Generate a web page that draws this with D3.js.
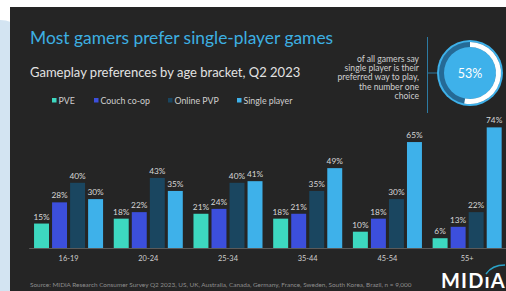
<!DOCTYPE html>
<html>
<head>
<meta charset="utf-8">
<script src="https://cdn.jsdelivr.net/npm/d3@7"></script>
<style>
  body { margin: 0; background: #ffffff; }
  svg { display: block; font-family: Lato, 'Open Sans', sans-serif; }
</style>
</head>
<body>
<svg id="chart"></svg>
<script>
// chart data
const ageGroups = ['16-19', '20-24', '25-34', '35-44', '45-54', '55+'];
const seriesNames = ['PVE', 'Couch co-op', 'Online PVP', 'Single player'];
const pveValues = [15, 18, 21, 18, 10, 6];
const couchValues = [28, 22, 24, 21, 18, 13];
const onlineValues = [40, 43, 40, 35, 30, 22];
const singleValues = [30, 35, 41, 49, 65, 74];
const headlineShare = 53;
const noteLines = ['of all gamers say', 'single player is their', 'preferred way to play,', 'the number one', 'choice'];

const COLORS = ['#3dd8c0', '#3c4fdc', '#1a4660', '#3eb1ea'];
const width = 506;
const height = 291;

const svg = d3.select('#chart')
    .attr('width', width)
    .attr('height', height);

// background: light side band + dark panel
svg.append('rect')
    .attr('x', -30).attr('y', 20)
    .attr('width', 60).attr('height', 320)
    .attr('rx', 30)
    .attr('fill', '#d3e4f2');
svg.append('rect')
    .attr('x', 10).attr('y', 7)
    .attr('width', width - 10).attr('height', height - 7)
    .attr('fill', '#252525');

// titles
svg.append('text')
    .attr('x', 30).attr('y', 44)
    .attr('fill', '#3db0e2')
    .style('font-size', '17.4px')
    .text('Most gamers prefer single-player games');

svg.append('text')
    .attr('x', 30).attr('y', 77)
    .attr('fill', '#e2e2e2')
    .style('font-size', '13px')
    .text('Gameplay preferences by age bracket, Q2 2023');

// legend
const legendX = [52, 94, 168, 237];
const legend = svg.append('g');
legend.selectAll('rect')
    .data(seriesNames)
    .enter()
    .append('rect')
    .attr('x', (d, i) => legendX[i])
    .attr('y', 98)
    .attr('width', 4.5).attr('height', 4.5)
    .attr('fill', (d, i) => COLORS[i]);
legend.selectAll('text')
    .data(seriesNames)
    .enter()
    .append('text')
    .attr('x', (d, i) => legendX[i] + 6.5)
    .attr('y', 103.5)
    .attr('fill', '#cfcfcf')
    .style('font-size', '8.8px')
    .text((d) => d);

// callout
svg.append('line')
    .attr('x1', 427.5).attr('x2', 427.5)
    .attr('y1', 37).attr('y2', 113)
    .attr('stroke', '#2d7aa2').attr('stroke-width', 1);
svg.append('line')
    .attr('x1', 427.5).attr('x2', 442)
    .attr('y1', 73).attr('y2', 73)
    .attr('stroke', '#2d7aa2').attr('stroke-width', 1);

svg.append('g').selectAll('text')
    .data(noteLines)
    .enter()
    .append('text')
    .attr('x', 419)
    .attr('y', (d, i) => 62 + i * 9.2)
    .attr('text-anchor', 'end')
    .attr('fill', '#cfcfcf')
    .style('font-size', '8.6px')
    .text((d) => d);

const donut = svg.append('g').attr('transform', 'translate(470,73)');
donut.append('circle').attr('r', 33).attr('fill', '#3eb1ea');
const ringArc = d3.arc().innerRadius(26).outerRadius(31);
donut.append('path')
    .attr('d', ringArc({startAngle: 0, endAngle: 2 * Math.PI}))
    .attr('fill', '#256a96');
donut.append('path')
    .attr('d', ringArc({startAngle: 0, endAngle: 2 * Math.PI * headlineShare / 100}))
    .attr('fill', '#ffffff');
donut.append('text')
    .attr('y', 4.5)
    .attr('text-anchor', 'middle')
    .attr('fill', '#ffffff')
    .style('font-size', '12.5px')
    .text(headlineShare + '%');

// bars
const series = [pveValues, couchValues, onlineValues, singleValues];
const xScale = d3.scaleBand()
    .domain(ageGroups)
    .range([28.7, 507])
    .paddingInner(0.134)
    .paddingOuter(0.067);
const xInner = d3.scaleBand()
    .domain(seriesNames)
    .range([0, xScale.bandwidth()])
    .paddingInner(0.17);
const yScale = d3.scaleLinear()
    .domain([0, 100])
    .range([248, 85]);

const groups = svg.append('g').selectAll('g')
    .data(ageGroups)
    .enter()
    .append('g')
    .attr('transform', (d) => 'translate(' + xScale(d) + ',0)');

seriesNames.forEach((name, s) => {
  groups.append('rect')
      .attr('x', xInner(name))
      .attr('y', (d, i) => yScale(series[s][i]))
      .attr('width', xInner.bandwidth())
      .attr('height', (d, i) => yScale(0) - yScale(series[s][i]))
      .attr('fill', COLORS[s]);
  groups.append('text')
      .attr('x', xInner(name) + xInner.bandwidth() / 2)
      .attr('y', (d, i) => yScale(series[s][i]) - 4)
      .attr('text-anchor', 'middle')
      .attr('fill', '#d8d8d8')
      .style('font-size', '8.3px')
      .text((d, i) => series[s][i] + '%');
});

// x axis
const xAxis = svg.append('g')
    .attr('transform', 'translate(0,248)')
    .call(d3.axisBottom(xScale).tickSize(0).tickPadding(8));
xAxis.select('.domain').attr('stroke', '#5a5a5a').attr('stroke-width', 1);
xAxis.selectAll('text')
    .attr('fill', '#cfcfcf')
    .style('font-size', '7.4px')
    .style('font-family', 'Lato, sans-serif');

// source + logo
svg.append('text')
    .attr('x', 30).attr('y', 287)
    .attr('fill', '#8e8e8e')
    .style('font-size', '6.4px')
    .text('Source: MIDiA Research Consumer Survey Q2 2023, US, UK, Australia, Canada, Germany, France, Sweden, South Korea, Brazil, n = 9,000');

svg.append('text')
    .attr('x', 441).attr('y', 288)
    .attr('fill', '#ffffff')
    .style('font-size', '20px')
    .style('font-weight', 'bold')
    .style('letter-spacing', '1.2px')
    .text('MIDıA');
svg.append('path')
    .attr('d', 'M 486 274 Q 492 265 505 265')
    .attr('fill', 'none')
    .attr('stroke', '#2aa3c8')
    .attr('stroke-width', 1.5);
</script>
</body>
</html>
